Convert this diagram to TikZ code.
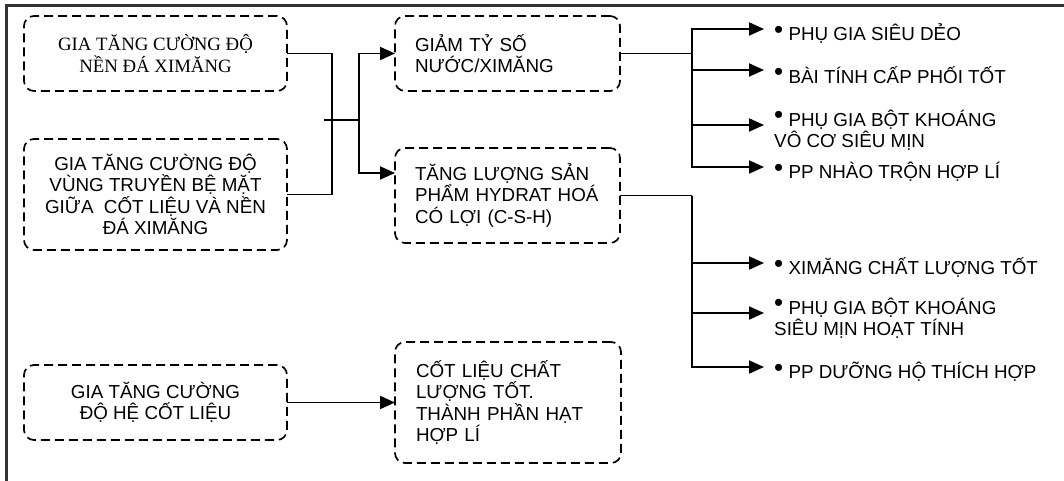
\documentclass[tikz,border=0pt]{standalone}
\usepackage{fontspec}
\setmainfont{Liberation Sans}
\newfontfamily\timesfont{Liberation Serif}
\usetikzlibrary{arrows.meta,positioning}
\definecolor{framegray}{HTML}{333333}
\newcommand{\bul}{\raisebox{2.5pt}{\fontsize{26}{26}\selectfont•}~}

\begin{document}
\begin{tikzpicture}[x=1pt, y=-1pt,
  box/.style={draw, rounded corners=10pt, dash pattern=on 9pt off 5pt, line width=1.7pt, outer sep=0pt, font=\fontsize{18.8}{21.5}\selectfont},
  leftbox/.style={box, align=left, inner xsep=20pt, text width=185pt},
  item/.style={anchor=west, align=left, inner xsep=10pt, inner ysep=0pt, font=\fontsize{18.8}{21.5}\selectfont},
  conn/.style={line width=1.9pt},
  arr/.style={conn, -{Triangle[length=15pt,width=13pt]}}]

\useasboundingbox (0,0) rectangle (1064,481);
% frame
\draw[framegray, line width=3.3pt] (6.7,481) |- (1064,5.7);

% left column
\node[box, minimum width=263pt, minimum height=75pt, align=center, font=\timesfont\fontsize{18.8}{22}\selectfont] (a1) at (155.5,53.5) {GIA TĂNG CƯỜNG ĐỘ\\NỀN ĐÁ XIMĂNG};
\node[box, minimum width=263pt, minimum height=111pt, align=center] (a2) [below=48pt of a1] {GIA TĂNG CƯỜNG ĐỘ\\VÙNG TRUYỀN BỆ MẶT\\GIỮA~~CỐT LIỆU VÀ NỀN\\ĐÁ XIMĂNG};
\node[box, minimum width=263pt, minimum height=75pt, align=center] (c1) [below=115pt of a2] {GIA TĂNG CƯỜNG\\ĐỘ HỆ CỐT LIỆU};

% middle column
\node[leftbox, minimum height=75pt] (b1) [right=108pt of a1] {GIẢM TỶ SỐ\\NƯỚC/XIMĂNG};
\node[leftbox, minimum height=95pt] (b2) [below=57pt of b1] {TĂNG LƯỢNG SẢN\\PHẨM HYDRAT HOÁ\\CÓ LỢI (C-S-H)};
\node[leftbox, minimum height=121pt, inner xsep=21pt, text width=184pt] (c2) [right=108pt of c1] {CỐT LIỆU CHẤT\\LƯỢNG TỐT.\\THÀNH PHẦN HẠT\\HỢP LÍ};

% right column
\node[item] (p1) at (764,34) {\bul PHỤ GIA SIÊU DẺO};
\node[item] (p2) at (764,75) {\bul BÀI TÍNH CẤP PHỐI TỐT};
\node[item] (p3) at (764,130) {\bul PHỤ GIA BỘT KHOÁNG\\VÔ CƠ SIÊU MỊN};
\node[item] (p4) at (764,172) {\bul PP NHÀO TRỘN HỢP LÍ};
\node[item] (q1) at (764,268) {\bul XIMĂNG CHẤT LƯỢNG TỐT};
\node[item] (q2) at (764,318) {\bul PHỤ GIA BỘT KHOÁNG\\SIÊU MỊN HOẠT TÍNH};
\node[item] (q3) at (764,372) {\bul PP DƯỠNG HỘ THÍCH HỢP};

% junctions
\coordinate (jl) at (332,120);
\coordinate (jm) at (324,120);
\coordinate (jr) at (359,120);
\coordinate (rt) at (692,53.5);
\coordinate (rb) at (692,195.5);

\draw[conn] (a1.east) -| (jl) |- (a2.east);
\draw[conn] (jm) -- (jr);
\draw[arr] (jr) |- (b1.west);
\draw[arr] (jr) |- ([yshift=22.5pt]b2.west);
\draw[arr] (c1.east) -- (c2.west);

\draw[conn] (b1.east) -- (rt);
\draw[conn] (b2.east) -- (rb);
\foreach \n in {p1,p2,p3,p4}
  \draw[arr] (rt) |- ([yshift=5pt]\n.west);
\foreach \n in {q1,q2,q3}
  \draw[arr] (rb) |- ([yshift=5pt]\n.west);

\end{tikzpicture}
\end{document}
